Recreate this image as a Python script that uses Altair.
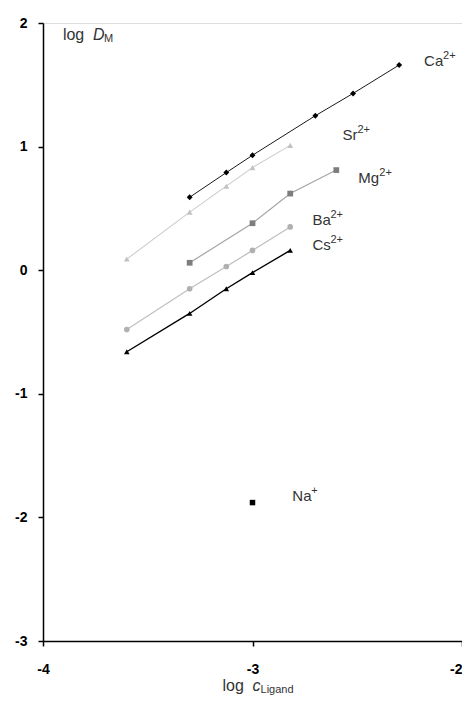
import altair as alt
import pandas as pd

# ---- data ----
ca_x = [-3.30, -3.125, -3.00, -2.70, -2.52, -2.30]
ca_y = [0.59, 0.79, 0.93, 1.25, 1.43, 1.66]

sr_x = [-3.60, -3.30, -3.125, -3.00, -2.82]
sr_y = [0.09, 0.47, 0.68, 0.83, 1.01]

mg_x = [-3.30, -3.00, -2.82, -2.60]
mg_y = [0.06, 0.38, 0.62, 0.81]

ba_x = [-3.60, -3.30, -3.125, -3.00, -2.82]
ba_y = [-0.48, -0.15, 0.03, 0.16, 0.35]

cs_x = [-3.60, -3.30, -3.125, -3.00, -2.82]
cs_y = [-0.66, -0.35, -0.15, -0.02, 0.16]

na_x = [-3.00]
na_y = [-1.88]

series_names = ["Ca", "Sr", "Mg", "Ba", "Cs", "Na"]
series_x = [ca_x, sr_x, mg_x, ba_x, cs_x, na_x]
series_y = [ca_y, sr_y, mg_y, ba_y, cs_y, na_y]

point_colors = ["#000000", "#c2c2c2", "#7d7d7d", "#b0b0b0", "#000000", "#000000"]
line_colors = ["#1a1a1a", "#cccccc", "#a5a5a5", "#c0c0c0", "#000000", "#000000"]
line_widths = [1.0, 1.5, 1.5, 1.5, 2.0, 1.0]
shapes = ["diamond", "triangle-up", "square", "circle", "triangle-up", "square"]
sizes = [35, 30, 40, 30, 40, 40]

# label annotations: base text, superscript, anchor position in data units
lab_base = ["Ca", "Sr", "Mg", "Ba", "Cs", "Na"]
lab_sup = ["2+", "2+", "2+", "2+", "2+", "+"]
lab_x = [-2.181, -2.571, -2.495, -2.714, -2.714, -2.81]
lab_y = [1.69, 1.09, 0.75, 0.41, 0.20, -1.83]
lab_base_w = [19, 15, 21, 18, 18, 19]  # approx px widths of base text

rows = []
for n, xs, ys in zip(series_names, series_x, series_y):
    for a, b in zip(xs, ys):
        rows.append({"ion": n, "x": a, "y": b})
df = pd.DataFrame(rows)

FONT = "Liberation Sans"
xs_scale = alt.Scale(domain=[-4, -2], nice=False, zero=False)
ys_scale = alt.Scale(domain=[-3, 2], nice=False, zero=False)

base = alt.Chart(df).encode(
    x=alt.X("x:Q", scale=xs_scale,
            axis=alt.Axis(title=None, values=[-4, -3, -2],
                          labelExpr="'' + datum.value",
                          labelAlign={"condition": {"test": "datum.value == -2", "value": "right"},
                                      "value": "center"},
                          grid=False, domainColor="#000", domainWidth=1.5,
                          tickColor="#000", tickWidth=1.5, tickSize=5,
                          labelFont=FONT, labelFontSize=14, labelFontWeight="bold",
                          labelColor="#000", labelPadding=16, labelFlush=False)),
    y=alt.Y("y:Q", scale=ys_scale,
            axis=alt.Axis(title=None, values=[-3, -2, -1, 0, 1, 2],
                          labelExpr="'' + datum.value",
                          grid=False, domainColor="#000", domainWidth=1.5,
                          tickColor="#000", tickWidth=1.5, tickSize=5,
                          labelFont=FONT, labelFontSize=14, labelFontWeight="bold",
                          labelColor="#000", labelPadding=11)),
)

lines = base.transform_filter(alt.datum.ion != "Na").mark_line().encode(
    color=alt.Color("ion:N", scale=alt.Scale(domain=series_names, range=line_colors), legend=None),
    strokeWidth=alt.StrokeWidth("ion:N", scale=alt.Scale(domain=series_names, range=line_widths), legend=None),
    detail="ion:N",
)

points = base.mark_point(filled=True, opacity=1).encode(
    fill=alt.Fill("ion:N", scale=alt.Scale(domain=series_names, range=point_colors), legend=None),
    shape=alt.Shape("ion:N", scale=alt.Scale(domain=series_names, range=shapes), legend=None),
    size=alt.Size("ion:N", scale=alt.Scale(domain=series_names, range=sizes), legend=None),
)

layers = [lines, points]

for b, s, lx, ly, w in zip(lab_base, lab_sup, lab_x, lab_y, lab_base_w):
    ldf = pd.DataFrame({"x": [lx], "y": [ly], "t": [b], "s": [s]})
    c = alt.Chart(ldf)
    layers.append(c.mark_text(font=FONT, fontSize=15, align="left", baseline="middle", color="#333").encode(
        x=alt.X("x:Q", scale=xs_scale), y=alt.Y("y:Q", scale=ys_scale), text="t:N"))
    layers.append(c.mark_text(font=FONT, fontSize=11, align="left", baseline="middle", color="#333",
                              dx=w, dy=-5).encode(
        x=alt.X("x:Q", scale=xs_scale), y=alt.Y("y:Q", scale=ys_scale), text="s:N"))

# axis titles as annotations
ydf = pd.DataFrame({"x": [-3.905], "y": [1.90]})
xdf = pd.DataFrame({"x": [-3.143], "y": [-3.366]})
for d, main, sub in [(ydf, "D", "M"), (xdf, "c", "Ligand")]:
    c = alt.Chart(d)
    enc = dict(x=alt.X("x:Q", scale=xs_scale), y=alt.Y("y:Q", scale=ys_scale))
    layers.append(c.mark_text(font=FONT, fontSize=16, align="left", baseline="middle",
                              color="#333", text="log").encode(**enc))
    layers.append(c.mark_text(font=FONT, fontSize=16, align="left", baseline="middle",
                              color="#333", fontStyle="italic", text=main, dx=30).encode(**enc))
    layers.append(c.mark_text(font=FONT, fontSize=11, align="left", baseline="middle",
                              color="#333", text=sub, dx=30 + (11 if main == "D" else 8), dy=4).encode(**enc))

chart = alt.layer(*layers).properties(
    width=419, height=618,
    padding={"left": 35, "top": 15, "right": 0, "bottom": 57},
    autosize=alt.AutoSizeParams(type="none"),
).configure_view(stroke=None).configure(background="white")

chart.save("out.html", embed_options={"renderer": "svg", "actions": False})
